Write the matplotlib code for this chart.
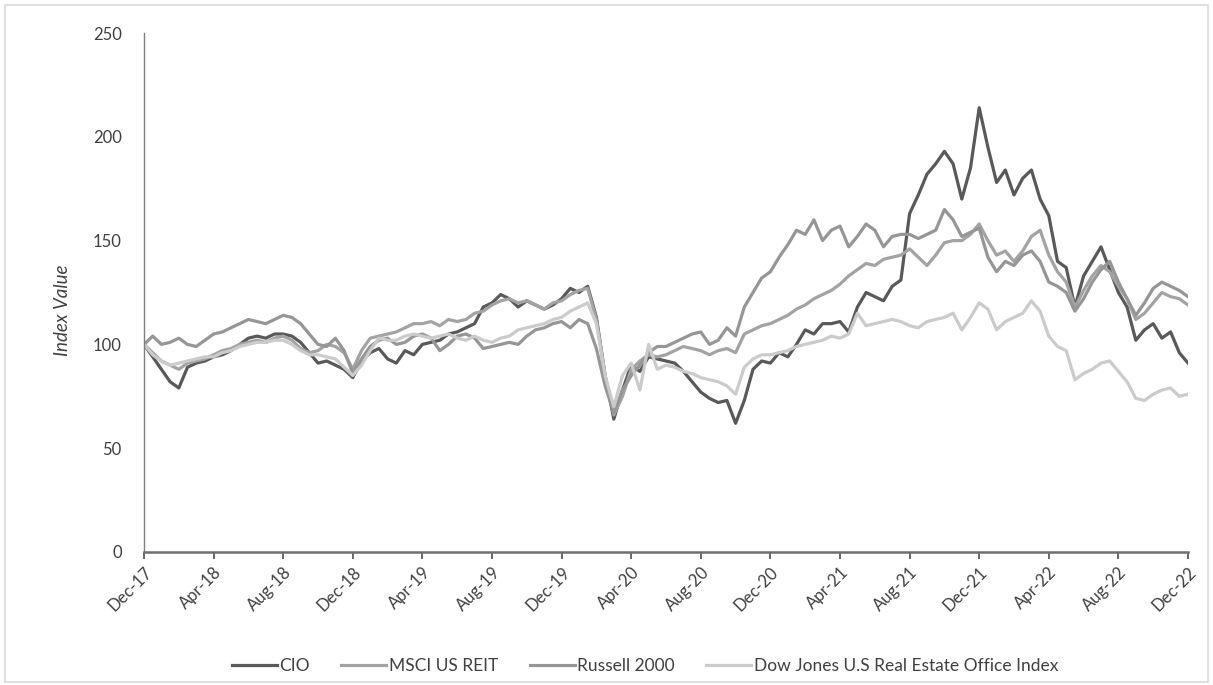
import matplotlib
matplotlib.use("Agg")
import matplotlib.pyplot as plt
import numpy as np
from matplotlib.patches import Rectangle

# Semi-monthly observation points, in months since Dec-17
months = np.arange(0, 60.5, 0.5)

cio = [
    100, 94, 88, 82, 79, 89, 91, 92, 94, 95, 97, 100, 103, 104, 103, 105, 105, 104, 101, 96, 91, 92, 90, 88, 84,
    92, 96, 98, 93, 91, 97, 95, 100, 101, 102, 105, 106, 108, 110, 118, 120, 124, 122, 118, 121, 119, 117, 119, 122,
    127, 125, 128, 113, 85, 64, 78, 90, 87, 94, 93, 92, 91, 87, 82, 77, 74, 72, 73, 62, 73, 88, 92, 91,
    96, 94, 100, 107, 105, 110, 110, 111, 106, 118, 125, 123, 121, 128, 131, 163, 172, 182, 187, 193, 187, 170, 185, 214,
    195, 178, 184, 172, 180, 184, 170, 162, 140, 137, 118, 133, 140, 147, 136, 125, 118, 102, 107, 110, 103, 106, 96, 91,
]
msci_reit = [
    100, 96, 92, 90, 88, 91, 92, 93, 95, 97, 98, 100, 101, 102, 101, 103, 104, 102, 98, 96, 97, 100, 99, 96, 88,
    97, 103, 104, 105, 106, 108, 110, 110, 111, 109, 112, 111, 112, 115, 116, 119, 121, 122, 120, 121, 119, 117, 120, 121,
    124, 126, 127, 112, 85, 66, 75, 88, 92, 95, 94, 95, 97, 99, 98, 97, 95, 97, 98, 96, 105, 107, 109, 110,
    112, 114, 117, 119, 122, 124, 126, 129, 133, 136, 139, 138, 141, 142, 143, 146, 142, 138, 143, 149, 150, 150, 153, 158,
    150, 143, 145, 140, 145, 152, 155, 143, 135, 130, 118, 126, 133, 138, 135, 128, 122, 112, 115, 120, 125, 123, 122, 119,
]
russell_2000 = [
    100, 104, 100, 101, 103, 100, 99, 102, 105, 106, 108, 110, 112, 111, 110, 112, 114, 113, 110, 105, 100, 99, 103, 97, 86,
    93, 99, 102, 103, 100, 101, 104, 105, 103, 97, 100, 104, 105, 103, 98, 99, 100, 101, 100, 104, 107, 108, 110, 111,
    108, 112, 110, 98, 80, 67, 78, 85, 90, 96, 99, 99, 101, 103, 105, 106, 100, 102, 108, 104, 118, 125, 132, 135,
    142, 148, 155, 153, 160, 150, 155, 157, 147, 152, 158, 155, 147, 152, 153, 153, 151, 153, 155, 165, 160, 152, 154, 156,
    142, 135, 140, 138, 143, 145, 140, 130, 128, 125, 116, 122, 130, 136, 140, 130, 122, 114, 120, 127, 130, 128, 126, 123,
]
dow_jones_office = [
    100, 95, 92, 90, 91, 92, 93, 94, 94, 96, 97, 99, 100, 101, 101, 102, 102, 100, 97, 95, 95, 94, 93, 89, 85,
    90, 97, 103, 102, 102, 104, 105, 104, 103, 104, 105, 103, 102, 104, 102, 101, 103, 104, 107, 108, 109, 110, 112, 113,
    116, 118, 120, 110, 85, 70, 85, 91, 78, 100, 88, 90, 89, 87, 86, 84, 83, 82, 80, 76, 89, 93, 95, 95,
    96, 97, 99, 100, 101, 102, 104, 103, 105, 115, 109, 110, 111, 112, 111, 109, 108, 111, 112, 113, 115, 107, 113, 120,
    117, 107, 111, 113, 115, 121, 116, 104, 99, 97, 83, 86, 88, 91, 92, 87, 82, 74, 73, 76, 78, 79, 75, 76,
]

series_names = ["CIO", "MSCI US REIT", "Russell 2000", "Dow Jones U.S Real Estate Office Index"]
tick_months = list(range(0, 61, 4))
tick_labels = ["Dec-17", "Apr-18", "Aug-18", "Dec-18", "Apr-19", "Aug-19", "Dec-19", "Apr-20",
               "Aug-20", "Dec-20", "Apr-21", "Aug-21", "Dec-21", "Apr-22", "Aug-22", "Dec-22"]
y_ticks = [0, 50, 100, 150, 200, 250]

colors = ["#595959", "#a3a3a3", "#969696", "#cbcbcb"]

plt.rcParams['font.family'] = ['Lato', 'DejaVu Sans']

fig = plt.figure(figsize=(12.13, 6.85), dpi=100)
fig.patch.set_facecolor("white")
fig.add_artist(Rectangle((5 / 1213, 3 / 685), 1 - 10 / 1213, 1 - 8 / 685, transform=fig.transFigure,
                         fill=False, edgecolor="#d9d9d9", linewidth=1.2))

ax = fig.add_axes([144 / 1213, 1 - 552 / 685, (1188 - 144) / 1213, (552 - 33) / 685])

for vals, name, c in zip([cio, msci_reit, russell_2000, dow_jones_office], series_names, colors):
    ax.plot(months, vals, color=c, linewidth=2.3, label=name, solid_joinstyle="round")

ax.set_xlim(0, 60)
ax.set_ylim(0, 250)
ax.set_yticks(y_ticks)
ax.set_yticklabels([str(v) for v in y_ticks], fontsize=12, color="#404040")
ax.set_xticks(tick_months)
ax.set_xticklabels(tick_labels, rotation=45, ha="right", va="top", rotation_mode="anchor",
                   fontsize=12, color="#404040")
ax.tick_params(axis="y", length=0, pad=16)
ax.tick_params(axis="x", length=5, width=1.3, color="#595959", pad=4, direction="out")

for s in ["top", "right"]:
    ax.spines[s].set_visible(False)
ax.spines["left"].set_color("#7f7f7f")
ax.spines["left"].set_linewidth(1.0)
ax.spines["bottom"].set_color("#6f6f6f")
ax.spines["bottom"].set_linewidth(1.8)

fig.text(62 / 1213, 1 - 310 / 685, "Index Value", rotation=90, ha="center", va="center",
         fontsize=13.5, style="italic", color="#404040")

leg = fig.legend(loc="center", bbox_to_anchor=(645 / 1213, 1 - 666 / 685), ncol=4, frameon=False,
                 fontsize=12.5, handlelength=2.6, handletextpad=0.15, columnspacing=1.8)
for t in leg.get_texts():
    t.set_color("#404040")

fig.savefig("out.png", dpi=100, facecolor="white")
